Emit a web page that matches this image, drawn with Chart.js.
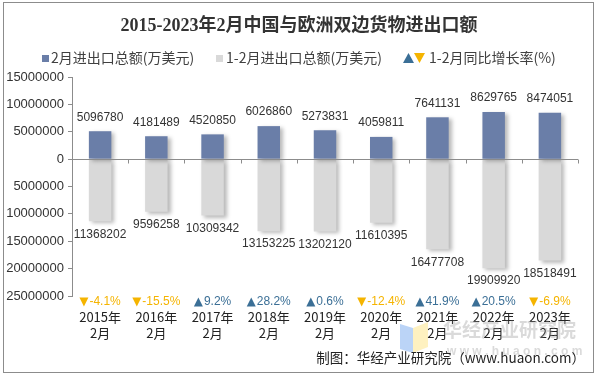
<!DOCTYPE html>
<html>
<head>
<meta charset="utf-8">
<script src="https://cdn.jsdelivr.net/npm/chart.js@4"></script>
<style>
  html, body { margin: 0; padding: 0; background: #fff; }
  canvas { display: block; }
</style>
</head>
<body>
<canvas id="chart" width="598" height="376"></canvas>
<script>
const titleText = '2015-2023年2月中国与欧洲双边货物进出口额';
const yearLabels = ['2015年', '2016年', '2017年', '2018年', '2019年', '2020年', '2021年', '2022年', '2023年'];
const monthLabel = '2月';
const febTotal = [5096780, 4181489, 4520850, 6026860, 5273831, 4059811, 7641131, 8629765, 8474051];
const janFebTotal = [11368202, 9596258, 10309342, 13153225, 13202120, 11610395, 16477708, 19909920, 18518491];
const growthRate = [-4.1, -15.5, 9.2, 28.2, 0.6, -12.4, 41.9, 20.5, -6.9];
const seriesNames = ['2月进出口总额(万美元)', '1-2月进出口总额(万美元)', '1-2月同比增长率(%)'];
const sourceText = '制图：华经产业研究院（www.huaon.com）';

const BLUE = '#6a7ea8';
const GREY = '#d9d9d9';
const UP = '#3b6f96';
const DOWN = '#f5b400';
const AXIS = '#8c8c8c';
const NUM_FONT = '"Liberation Sans", Arial, "Noto Sans CJK SC", sans-serif';
const CJK_FONT = '"Noto Sans CJK SC", "Liberation Sans", sans-serif';

function triangle(ctx, x, y, w, h, up) {
  ctx.beginPath();
  if (up) {
    ctx.moveTo(x, y + h / 2); ctx.lineTo(x + w / 2, y - h / 2); ctx.lineTo(x + w, y + h / 2);
  } else {
    ctx.moveTo(x, y - h / 2); ctx.lineTo(x + w, y - h / 2); ctx.lineTo(x + w / 2, y + h / 2);
  }
  ctx.closePath();
  ctx.fill();
}

const decorations = {
  id: 'decorations',
  beforeDatasetsDraw: chart => {
    const ctx = chart.ctx;
    ctx.save();
    ctx.shadowColor = 'rgba(0, 0, 0, 0.28)';
    ctx.shadowOffsetX = 3;
    ctx.shadowOffsetY = 2;
    ctx.shadowBlur = 4;
  },
  afterDatasetsDraw: chart => {
    const ctx = chart.ctx;
    ctx.restore();
    ctx.save();
    const xAxis = chart.scales.x;
    const yAxis = chart.scales.y;
    const area = chart.chartArea;

    // zero line with category ticks
    const y0 = Math.round(yAxis.getPixelForValue(0)) + 0.5;
    ctx.strokeStyle = AXIS;
    ctx.lineWidth = 1;
    ctx.beginPath();
    ctx.moveTo(area.left, y0);
    ctx.lineTo(area.right, y0);
    const step = (area.right - area.left) / yearLabels.length;
    for (let i = 1; i <= yearLabels.length; i++) {
      const x = Math.round(area.left + i * step) + 0.5;
      ctx.moveTo(x, y0);
      ctx.lineTo(x, y0 + 4);
    }
    ctx.stroke();

    // value labels
    ctx.font = '12px ' + NUM_FONT;
    ctx.fillStyle = '#333';
    ctx.textAlign = 'center';
    ctx.textBaseline = 'middle';
    chart.getDatasetMeta(0).data.forEach((bar, i) => {
      ctx.fillText(String(febTotal[i]), bar.x, bar.y - 14);
    });
    chart.getDatasetMeta(1).data.forEach((bar, i) => {
      ctx.fillText(String(janFebTotal[i]), bar.x, bar.y + 13);
    });

    // growth rate labels under the plot
    ctx.font = '12px ' + NUM_FONT;
    ctx.textAlign = 'left';
    const gy = area.bottom + 6;
    growthRate.forEach((g, i) => {
      const txt = g.toFixed(1) + '%';
      const tw = ctx.measureText(txt).width;
      const total = 10 + tw;
      const x = xAxis.getPixelForValue(i) - total / 2;
      ctx.fillStyle = g >= 0 ? UP : DOWN;
      triangle(ctx, x, gy, 9, 9, g >= 0);
      ctx.fillText(txt, x + 10, gy);
    });
    ctx.restore();
  },
  afterDraw: chart => {
    const ctx = chart.ctx;
    ctx.save();

    // outer frame
    ctx.strokeStyle = AXIS;
    ctx.lineWidth = 1;
    ctx.strokeRect(3.5, 2.5, 590, 370);

    // title
    ctx.fillStyle = '#333';
    ctx.textAlign = 'center';
    ctx.textBaseline = 'middle';
    ctx.font = 'bold 18px "Liberation Serif", "Noto Sans CJK SC", serif';
    ctx.fillText(titleText, 299, 26);

    // legend
    ctx.textAlign = 'left';
    ctx.font = '14px ' + CJK_FONT;
    ctx.fillStyle = BLUE;
    ctx.fillRect(42, 55, 7, 7);
    ctx.fillStyle = GREY;
    ctx.fillRect(216, 55, 7, 7);
    ctx.fillStyle = '#404040';
    ctx.fillText(seriesNames[0], 51, 58);
    ctx.fillText(seriesNames[1], 226, 58);
    ctx.fillStyle = UP;
    triangle(ctx, 403, 58, 11, 10, true);
    ctx.fillStyle = DOWN;
    triangle(ctx, 414, 58, 11, 10, false);
    ctx.fillStyle = '#404040';
    ctx.fillText(seriesNames[2], 429, 58);

    // watermark
    ctx.fillStyle = 'rgba(120, 170, 240, 0.5)';
    ctx.beginPath();
    ctx.moveTo(400, 324); ctx.lineTo(413, 328); ctx.lineTo(413, 353); ctx.lineTo(400, 349); ctx.closePath();
    ctx.fill();
    ctx.fillStyle = 'rgba(253, 230, 140, 0.55)';
    ctx.beginPath();
    ctx.moveTo(413, 328); ctx.lineTo(428, 322); ctx.lineTo(428, 347); ctx.lineTo(413, 353); ctx.closePath();
    ctx.fill();
    ctx.fillStyle = 'rgba(150, 150, 150, 0.35)';
    ctx.font = 'bold 19px ' + CJK_FONT;
    ctx.fillText('华经产业研究院', 443, 330);
    ctx.font = 'bold 12px ' + NUM_FONT;
    ctx.fillText('w w w . h u a o n . c o m', 447, 352);

    // source
    ctx.fillStyle = '#222';
    ctx.textAlign = 'right';
    ctx.font = '13.5px ' + CJK_FONT;
    ctx.fillText(sourceText, 585, 358);
    ctx.restore();
  }
};

new Chart(document.getElementById('chart'), {
  type: 'bar',
  plugins: [decorations],
  data: {
    labels: yearLabels.map(y => [y, monthLabel]),
    datasets: [{
      label: seriesNames[0],
      data: febTotal,
      backgroundColor: BLUE,
      barPercentage: 0.4,
      categoryPercentage: 1
    }, {
      label: seriesNames[1],
      data: janFebTotal.map(v => -v),
      backgroundColor: GREY,
      barPercentage: 0.4,
      categoryPercentage: 1
    }]
  },
  options: {
    responsive: false,
    animation: false,
    layout: { padding: { top: 77, right: 20, bottom: 0, left: 0 } },
    plugins: {
      legend: { display: false },
      title: { display: false },
      tooltip: { enabled: false }
    },
    scales: {
      x: {
        stacked: true,
        grid: { display: false },
        border: { display: false },
        ticks: {
          color: '#222',
          padding: 5,
          maxRotation: 0,
          autoSkip: false,
          font: { family: CJK_FONT, size: 13, lineHeight: 1.25 }
        },
        afterFit: scale => { scale.height = 80; }
      },
      y: {
        stacked: true,
        min: -25000000,
        max: 15000000,
        grid: {
          drawOnChartArea: false,
          drawTicks: true,
          tickLength: 4,
          color: AXIS
        },
        border: { display: true, color: AXIS },
        ticks: {
          stepSize: 5000000,
          color: '#333',
          padding: 4,
          font: { family: NUM_FONT, size: 13 },
          callback: value => Math.abs(value)
        },
        afterFit: scale => { scale.width = 72; }
      }
    }
  }
});
</script>
</body>
</html>
